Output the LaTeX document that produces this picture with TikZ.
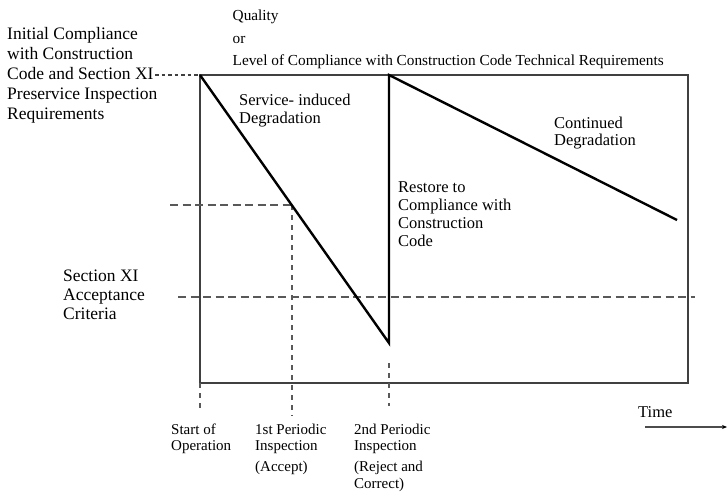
\documentclass[tikz,border=0pt]{standalone}
\usepackage{fontspec}
\setmainfont{Liberation Serif}
\usetikzlibrary{arrows.meta}
\begin{document}
\begin{tikzpicture}[x=1pt,y=-1pt,
  lbl/.style={anchor=north west, inner sep=0pt, align=left},
  boxline/.style={draw=black!75, line width=1.3pt},
  degline/.style={draw=black, line width=2.4pt, line join=miter},
  guide/.style={draw=black!65, line width=1.1pt, dash pattern=on 8pt off 4.5pt},
  vguide/.style={draw=black!65, line width=1.1pt, dash pattern=on 5pt off 5pt},
  shortdash/.style={draw=black!75, line width=1.1pt, dash pattern=on 3.5pt off 3pt},
  timearrow/.style={draw=black!70, line width=1.4pt, -{Stealth[length=5pt,width=4pt,black]}}
]
\useasboundingbox (0,0) rectangle (727,492);

% coordinates
\coordinate (TL) at (200,75);
\coordinate (BR) at (688,383);
\coordinate (A) at (200,75);
\coordinate (B) at (389,343);
\coordinate (C) at (389,75);
\coordinate (D) at (677,220);
\coordinate (P1) at (292,205);
\coordinate (H1s) at (170,205);
\coordinate (H2s) at (178,297);
\coordinate (H2e) at (695,297);
\coordinate (V1e) at (292,416);
\coordinate (V0s) at (200,383);
\coordinate (V0e) at (200,408);
\coordinate (V2s) at (389,363);
\coordinate (V2e) at (389,406);
\coordinate (L0) at (155,75);
\coordinate (T0) at (645,427);
\coordinate (T1) at (727,427);

% frame
\draw[boxline] (TL) rectangle (BR);

% guides
\draw[shortdash] (L0) -- (TL);
\draw[guide] (H1s) -- (P1);
\draw[vguide] (P1) -- (V1e);
\draw[guide] (H2s) -- (H2e);
\draw[vguide] (V0s) -- (V0e);
\draw[vguide] (V2s) -- (V2e);

% degradation curve
\draw[degline] (A) -- (B) -- (C) -- (D);

% time arrow
\draw[timearrow] (T0) -- (T1);

% texts
\node[lbl, font=\fontsize{15.3}{22.5}\selectfont] (title) at (232.5,10)
  {Quality\\or\\Level of Compliance with Construction Code Technical Requirements};
\node[lbl, font=\fontsize{17.5}{20}\selectfont] (init) at (7,27.5)
  {Initial Compliance\\with Construction\\Code and Section XI\\Preservice Inspection\\Requirements};
\node[lbl, font=\fontsize{17.5}{19}\selectfont] (accept) at (63,270)
  {Section XI\\Acceptance\\Criteria};
\node[lbl, font=\fontsize{16.5}{18}\selectfont] (sid) at (239,93.5)
  {Service- induced\\Degradation};
\node[lbl, font=\fontsize{16.5}{17.7}\selectfont] (cont) at (554,116.5)
  {Continued\\Degradation};
\node[lbl, font=\fontsize{16.5}{18}\selectfont] (rest) at (398,181.5)
  {Restore to\\Compliance with\\Construction\\Code};
\node[lbl, font=\fontsize{15}{15.5}\selectfont] (start) at (171,424)
  {Start of\\Operation};
\node[lbl, font=\fontsize{15}{15.5}\selectfont] (first) at (255,424)
  {1st Periodic\\Inspection\\[6pt](Accept)};
\node[lbl, font=\fontsize{15}{15.5}\selectfont] (second) at (354,424)
  {2nd Periodic\\Inspection\\[6pt](Reject and\\[1pt]Correct)};
\node[lbl, font=\fontsize{16.5}{18}\selectfont] (time) at (638,406) {Time};
\end{tikzpicture}
\end{document}
